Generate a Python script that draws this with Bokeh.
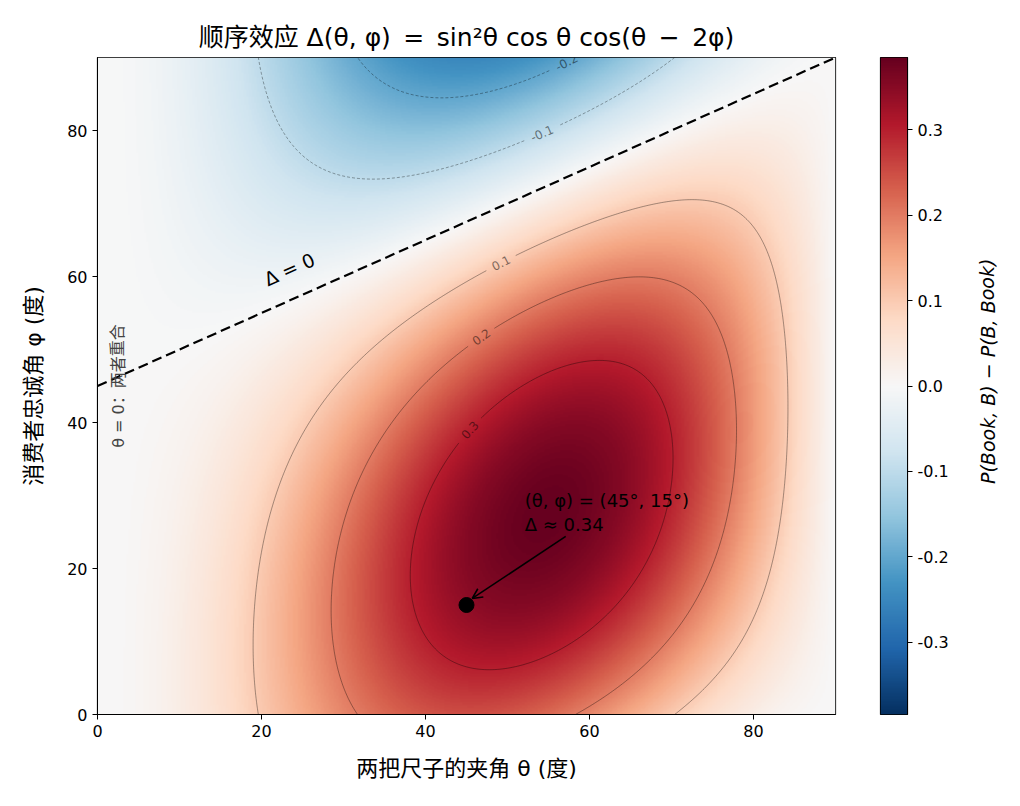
import numpy as np

from bokeh.core.properties import value
from bokeh.embed import file_html
from bokeh.layouts import row
from bokeh.models import (Arrow, FixedTicker, LinearColorMapper,
                          NumeralTickFormatter, OpenHead, Range1d)
from bokeh.plotting import figure
from bokeh.plotting.contour import contour_data
from bokeh.resources import INLINE

# ---- data -------------------------------------------------------------
theta_deg = np.linspace(0.0, 90.0, 451)          # angle between the two rulers
phi_deg = np.linspace(0.0, 90.0, 451)            # consumer loyalty angle
contour_levels = [-0.2, -0.1, 0.1, 0.2, 0.3]
# where each contour carries its value label (theta, phi)
label_theta = [57.2, 54.1, 49.3, 46.8, 45.1]
label_phi = [89.2, 79.9, 61.8, 51.8, 39.2]
colorbar_ticks = [-0.3, -0.2, -0.1, 0.0, 0.1, 0.2, 0.3]
axis_ticks = [0, 20, 40, 60, 80]
marked_theta = 45.0
marked_phi = 15.0


def order_effect(theta, phi):
    t = np.radians(theta)
    f = np.radians(phi)
    return np.sin(t) ** 2 * np.cos(t) * np.cos(t - 2 * f)


T, P = np.meshgrid(theta_deg, phi_deg)
Z = order_effect(T, P)
zmax = float(np.abs(Z).max())

# RdBu_r, interpolated smoothly from the ColorBrewer anchors
anchors = ["#053061", "#2166ac", "#4393c3", "#92c5de", "#d1e5f0", "#f7f7f7",
           "#fddbc7", "#f4a582", "#d6604d", "#b2182b", "#67001f"]
rgb = np.array([[int(c[i:i + 2], 16) for i in (1, 3, 5)] for c in anchors], float)
pos = np.linspace(0, 1, len(anchors))
fine = np.linspace(0, 1, 256)
palette = ["#%02x%02x%02x" % tuple(int(round(np.interp(v, pos, rgb[:, k]))) for k in range(3))
           for v in fine]
mapper = LinearColorMapper(palette=palette, low=-zmax, high=zmax)

CJK = "Noto Sans CJK SC"
MIX = "DejaVu Sans, Noto Sans CJK SC"
LAT = "DejaVu Sans"
FW, FH = 738, 657                     # frame size in px
SX, SY = FW / 90.0, FH / 90.0         # px per degree

SP = "\u2002"                          # wider space around operators
title_text = f"顺序效应 Δ(θ, φ){SP}={SP}sin²θ cos θ cos(θ{SP}−{SP}2φ)"

p = figure(width=855, height=806, output_backend="svg", toolbar_location=None,
           x_range=Range1d(0, 90), y_range=Range1d(0, 90),
           min_border_left=97, min_border_right=20, min_border_top=57, min_border_bottom=92,
           title=title_text)
p.title.align = "center"
p.title.text_font = MIX
p.title.text_font_size = "25px"
p.title.text_font_style = "normal"
p.title.text_color = "black"
p.title.standoff = 11
p.grid.visible = False
p.outline_line_color = "black"
p.outline_line_width = 1.2
p.outline_line_alpha = 1.0
p.background_fill_color = "white"

p.image(image=[Z], x=0, y=0, dw=90, dh=90, color_mapper=mapper)

# ---- contour lines with gaps where their labels sit ----------------------
cd = contour_data(T, P, Z, levels=contour_levels, want_fill=False, want_line=True)
line_xs, line_ys = cd.line_data.xs, cd.line_data.ys

lab_x, lab_y, lab_t, lab_a = [], [], [], []
for lev, xs, ys, lt, lp in zip(contour_levels, line_xs, line_ys, label_theta, label_phi):
    xs = np.asarray(xs, float)
    ys = np.asarray(ys, float)
    # split into NaN separated pieces
    breaks = np.where(np.isnan(xs))[0]
    bounds = np.concatenate(([-1], breaks, [len(xs)]))
    pieces = [(xs[a + 1:b], ys[a + 1:b]) for a, b in zip(bounds[:-1], bounds[1:]) if b - a > 2]
    best = None
    for k, (px, py) in enumerate(pieces):
        d = np.hypot((px - lt) * SX, (py - lp) * SY)
        i = int(np.argmin(d))
        if best is None or d[i] < best[0]:
            best = (d[i], k, i)
    _, kb, ib = best
    bx, by = pieces[kb]
    cx, cy = bx[ib], by[ib]
    i0, i1 = max(ib - 3, 0), min(ib + 3, len(bx) - 1)
    ang = np.arctan2((by[i1] - by[i0]) * SY, (bx[i1] - bx[i0]) * SX)
    if ang > np.pi / 2:
        ang -= np.pi
    if ang < -np.pi / 2:
        ang += np.pi
    text = f"{lev:.1f}"
    lab_x.append(cx)
    lab_y.append(cy)
    lab_t.append(text)
    lab_a.append(ang)
    gap = 7.0 * len(text) / 2 + 5
    out_x, out_y = [], []
    for k, (px, py) in enumerate(pieces):
        if k == kb:
            keep = np.hypot((px - cx) * SX, (py - cy) * SY) > gap
            idx = np.where(keep)[0]
            if len(idx) == 0:
                continue
            runs = np.split(idx, np.where(np.diff(idx) > 1)[0] + 1)
            for r in runs:
                if len(r) > 1:
                    out_x.append(px[r])
                    out_y.append(py[r])
        else:
            out_x.append(px)
            out_y.append(py)
    p.multi_line(xs=out_x, ys=out_y, line_color="black",
                 line_alpha=0.45 if lev > 0 else 0.5,
                 line_width=0.8 if lev > 0 else 0.7,
                 line_dash="solid" if lev > 0 else "3 2")

p.text(x=lab_x, y=lab_y, text=lab_t, angle=lab_a, text_align="center",
       text_baseline="middle", text_font=value(LAT), text_font_size="12px",
       text_color="black", text_alpha=0.5)

# ---- zero line: theta - 2 phi = -90 --------------------------------------
zero_theta = np.array([0.0, 90.0])
zero_phi = 45.0 + zero_theta / 2.0
p.line(zero_theta, zero_phi, line_color="black", line_width=2.2, line_dash="10 5")
zero_angle = float(np.arctan(0.5 * SY / SX))
p.text(x=[23.4], y=[61.0], text=["Δ = 0"], angle=[zero_angle], text_align="center",
       text_baseline="middle", text_font=value(LAT), text_font_size="19px",
       text_color="black")

p.text(x=[2.5], y=[45.0], text=["θ = 0：两者重合"], angle=[np.pi / 2], text_align="center",
       text_baseline="middle", text_font=value(MIX), text_font_size="16px",
       text_color="#444444")

# ---- marked point -------------------------------------------------------
marked_val = float(order_effect(marked_theta, marked_phi))
p.scatter([marked_theta], [marked_phi], size=15, color="black")
p.add_layout(Arrow(end=OpenHead(size=10, line_width=1.6, line_color="black"),
                   x_start=57.1, y_start=24.4, x_end=45.7, y_end=15.9,
                   line_width=1.6, line_color="black"))
p.text(x=[52.1, 52.1], y=[29.3, 26.0],
       text=[f"(θ, φ) = ({marked_theta:.0f}°, {marked_phi:.0f}°)", f"Δ ≈ {marked_val:.2f}"],
       text_align="left", text_baseline="alphabetic", text_font=value(LAT),
       text_font_size="18px", text_color="black")

# ---- axes --------------------------------------------------------------
for ax in (p.xaxis[0], p.yaxis[0]):
    ax.ticker = FixedTicker(ticks=axis_ticks)
    ax.major_label_text_font = LAT
    ax.major_label_text_font_size = "16px"
    ax.major_label_text_color = "black"
    ax.axis_label_text_font = MIX
    ax.axis_label_text_font_size = "22px"
    ax.axis_label_text_font_style = "normal"
    ax.axis_label_text_color = "black"
    ax.major_tick_in = 0
    ax.major_tick_out = 5
    ax.minor_tick_line_color = None
    ax.axis_line_color = "black"
    ax.major_tick_line_color = "black"
p.xaxis.axis_label = "两把尺子的夹角 θ (度)"
p.yaxis.axis_label = "消费者忠诚角 φ (度)"
p.xaxis.axis_label_standoff = 16
p.yaxis.axis_label_standoff = 18

# ---- colour bar ---------------------------------------------------------
bar_vals = np.linspace(-zmax, zmax, 512).reshape(-1, 1)
cb = figure(width=110, height=806, output_backend="svg", toolbar_location=None,
            x_range=Range1d(0, 1), y_range=Range1d(-zmax, zmax),
            min_border_left=25, min_border_right=58, min_border_top=57, min_border_bottom=92,
            y_axis_location="right")
cb.image(image=[bar_vals], x=0, y=-zmax, dw=1, dh=2 * zmax, color_mapper=mapper)
cb.grid.visible = False
cb.xaxis.visible = False
cb.outline_line_color = "black"
cb.outline_line_width = 1.2
cb.outline_line_alpha = 1.0
ya = cb.yaxis[0]
ya.ticker = FixedTicker(ticks=colorbar_ticks)
ya.formatter = NumeralTickFormatter(format="0.0")
ya.major_label_text_font = LAT
ya.major_label_text_font_size = "16px"
ya.major_label_text_color = "black"
ya.major_tick_in = 0
ya.major_tick_out = 5
ya.minor_tick_line_color = None
ya.axis_line_color = "black"

# colour bar title, reading bottom to top
lab = figure(width=55, height=806, output_backend="svg", toolbar_location=None,
             x_range=Range1d(0, 55), y_range=Range1d(0, 806),
             x_axis_type=None, y_axis_type=None, min_border=0,
             min_border_left=0, min_border_right=0, min_border_top=0, min_border_bottom=0)
lab.outline_line_color = None
lab.text(x=[22], y=[806 - 385], text=["P(Book, B) − P(B, Book)"], angle=[np.pi / 2],
         text_align="center", text_baseline="middle", text_font=value(LAT),
         text_font_size="19px", text_font_style="italic", text_color="black")

layout = row(p, cb, lab)
open("out.html", "w").write(file_html(layout, INLINE))
